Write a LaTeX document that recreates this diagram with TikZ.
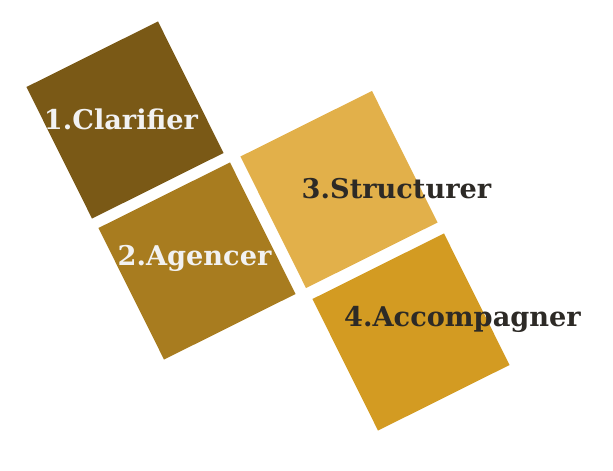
\documentclass[tikz,border=0pt]{standalone}
\usepackage{fontspec}
\setmainfont{DejaVu Serif}
\usepackage{tikz}
\usetikzlibrary{positioning}
\definecolor{clarify}{RGB}{122,89,22}
\definecolor{arrange}{RGB}{168,124,31}
\definecolor{structure}{RGB}{226,176,74}
\definecolor{support}{RGB}{211,155,34}
\definecolor{light}{RGB}{242,242,242}
\definecolor{dark}{RGB}{45,42,38}

\begin{document}
\begin{tikzpicture}[x=1pt,y=-1pt, tile/.style={rectangle,draw=none,fill=#1,minimum size=147pt,inner sep=0pt,rotate=26.5}, step label/.style={anchor=base,inner sep=0pt,font=\fontsize{27.2}{32}\selectfont\bfseries,text=#1}]

\useasboundingbox (0,0) rectangle (613,471);

% the four tiles
\node[tile=clarify] (tile1) at (125,120) {};
\node[tile=arrange] (tile2) at (197,261) {};
\node[tile=structure] (tile3) at (339,189.5) {};
\node[tile=support] (tile4) at (411,332) {};

% labels
\node[step label=light] (lab1) at (121,129) {1.Clarifier};
\node[step label=light] (lab2) at (194.5,265) {2.Agencer};
\node[step label=dark] (lab3) at (396.5,198) {3.Structurer};
\node[step label=dark] (lab4) at (462.5,326) {4.Accompagner};
\end{tikzpicture}
\end{document}
